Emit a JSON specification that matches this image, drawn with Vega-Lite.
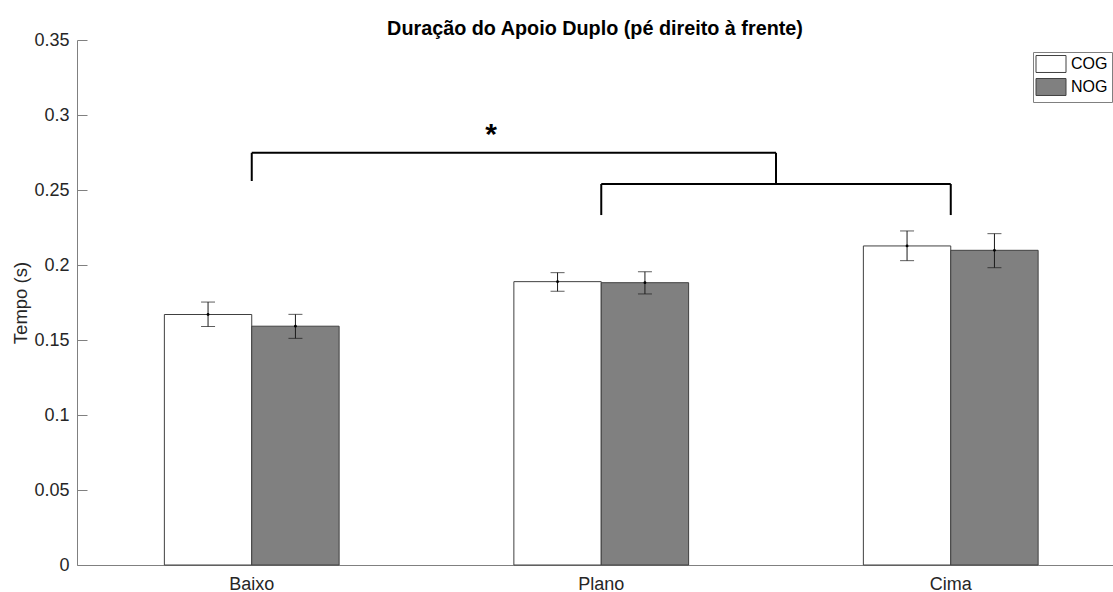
{
  "$schema": "https://vega.github.io/schema/vega-lite/v6.json",
  "width": 1036,
  "height": 525,
  "autosize": {"type": "none"},
  "padding": {"left": 77, "top": 40, "right": 0, "bottom": 27},
  "title": {
    "text": "Duração do Apoio Duplo (pé direito à frente)",
    "font": "Liberation Sans",
    "fontSize": 19.8,
    "fontWeight": "bold",
    "color": "#000000",
    "anchor": "middle",
    "offset": -8,
    "dx": 0
  },
  "config": {
    "view": {"stroke": null},
    "font": "Liberation Sans"
  },
  "datasets": {
    "medias": [
      {"grupo": "Baixo", "condicao": "COG", "media": 0.167, "inf": 0.159, "sup": 0.1753},
      {"grupo": "Baixo", "condicao": "NOG", "media": 0.1592, "inf": 0.1511, "sup": 0.1671},
      {"grupo": "Plano", "condicao": "COG", "media": 0.1889, "inf": 0.1825, "sup": 0.1949},
      {"grupo": "Plano", "condicao": "NOG", "media": 0.1882, "inf": 0.1807, "sup": 0.1955},
      {"grupo": "Cima", "condicao": "COG", "media": 0.2127, "inf": 0.2029, "sup": 0.2227},
      {"grupo": "Cima", "condicao": "NOG", "media": 0.2098, "inf": 0.1982, "sup": 0.2209}
    ],
    "chaves": [
      {"x": 1, "x2": 2.5, "y": 0.2748, "y2": 0.2748},
      {"x": 1, "x2": 1, "y": 0.2748, "y2": 0.256},
      {"x": 2.5, "x2": 2.5, "y": 0.2748, "y2": 0.254},
      {"x": 2, "x2": 3, "y": 0.254, "y2": 0.254},
      {"x": 2, "x2": 2, "y": 0.254, "y2": 0.2333},
      {"x": 3, "x2": 3, "y": 0.254, "y2": 0.2333}
    ],
    "significancia": [
      {"x": 1.685, "y": 0.2806, "rotulo": "*"}
    ]
  },
  "layer": [
    {
      "data": {"name": "medias"},
      "encoding": {
        "x": {
          "field": "grupo",
          "type": "nominal",
          "sort": ["Baixo", "Plano", "Cima"],
          "scale": {"paddingInner": 0.5, "paddingOuter": 0.2321, "align": 0.5385},
          "axis": {
            "title": null,
            "ticks": false,
            "labelAngle": 0,
            "labelFontSize": 18,
            "labelColor": "#262626",
            "labelPadding": 10,
            "domainColor": "#808080",
            "domainWidth": 1
          }
        },
        "xOffset": {
          "field": "condicao",
          "type": "nominal",
          "sort": ["COG", "NOG"],
          "scale": {"paddingInner": 0, "paddingOuter": 0}
        }
      },
      "layer": [
        {
          "mark": {"type": "bar", "stroke": "#404040", "strokeWidth": 1},
          "encoding": {
            "y": {
              "field": "media",
              "type": "quantitative",
              "scale": {"domain": [0, 0.35], "nice": false, "zero": true},
              "axis": {
                "title": "Tempo (s)",
                "titleFontSize": 18.5,
                "titleFontWeight": "normal",
                "titleColor": "#262626",
                "titlePadding": 3,
                "values": [0, 0.05, 0.1, 0.15, 0.2, 0.25, 0.3, 0.35],
                "format": ".2~f",
                "labelFontSize": 18,
                "labelColor": "#262626",
                "labelPadding": 18,
                "tickSize": -10,
                "tickColor": "#808080",
                "domainColor": "#808080",
                "grid": false
              }
            },
            "color": {
              "field": "condicao",
              "type": "nominal",
              "sort": ["COG", "NOG"],
              "scale": {"domain": ["COG", "NOG"], "range": ["#ffffff", "#808080"]},
              "legend": {
                "title": null,
                "orient": "none",
                "legendX": 956,
                "legendY": 12,
                "symbolType": "M-2,-1.13H2V1.13H-2Z",
                "symbolSize": 225,
                "symbolOffset": 6,
                "symbolStrokeColor": "#404040",
                "symbolStrokeWidth": 1,
                "symbolOpacity": 1,
                "labelFontSize": 16,
                "labelColor": "#000000",
                "labelOffset": 12,
                "rowPadding": 1,
                "padding": 4,
                "strokeColor": "#808080",
                "fillColor": "#ffffff"
              }
            }
          }
        },
        {
          "mark": {"type": "rule", "color": "#1a1a1a", "strokeWidth": 1},
          "encoding": {
            "y": {"field": "inf", "type": "quantitative"},
            "y2": {"field": "sup"}
          }
        },
        {
          "mark": {"type": "tick", "color": "#1a1a1a", "size": 14, "thickness": 1, "orient": "horizontal"},
          "encoding": {
            "y": {"field": "inf", "type": "quantitative"}
          }
        },
        {
          "mark": {"type": "tick", "color": "#1a1a1a", "size": 14, "thickness": 1, "orient": "horizontal"},
          "encoding": {
            "y": {"field": "sup", "type": "quantitative"}
          }
        },
        {
          "mark": {"type": "point", "filled": true, "color": "#000000", "size": 8, "opacity": 1},
          "encoding": {
            "y": {"field": "media", "type": "quantitative"}
          }
        }
      ]
    },
    {
      "layer": [
        {
          "data": {"name": "chaves"},
          "mark": {"type": "rule", "color": "#000000", "strokeWidth": 2},
          "encoding": {
            "x": {
              "field": "x",
              "type": "quantitative",
              "scale": {"domain": [0.5, 3.4642], "nice": false, "zero": false},
              "axis": null
            },
            "x2": {"field": "x2"},
            "y": {"field": "y", "type": "quantitative", "axis": null},
            "y2": {"field": "y2"}
          }
        },
        {
          "data": {"name": "significancia"},
          "mark": {"type": "text", "fontSize": 30, "fontWeight": "bold", "color": "#000000", "baseline": "alphabetic", "align": "center"},
          "encoding": {
            "x": {"field": "x", "type": "quantitative", "axis": null},
            "y": {"field": "y", "type": "quantitative", "axis": null},
            "text": {"field": "rotulo"}
          }
        }
      ]
    }
  ],
  "resolve": {"scale": {"x": "independent"}, "axis": {"y": "independent"}}
}
